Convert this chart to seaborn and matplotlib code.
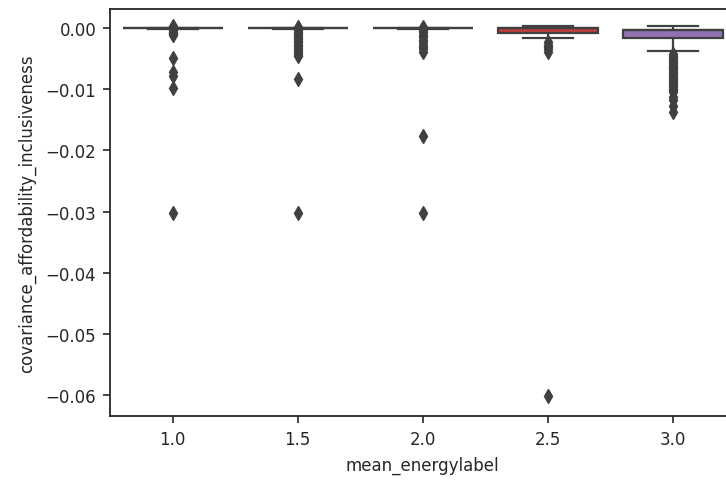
import matplotlib
matplotlib.use('Agg')
import matplotlib.pyplot as plt
import numpy as np
import pandas as pd
import seaborn as sns

# categories on the x axis
energy_labels = ['1.0', '1.5', '2.0', '2.5', '3.0']

# box body per group: whisker-high, Q3, median, Q1, whisker-low
core_vals = {
    '1.0': [0.00002, 0.00002, 0.0, -0.00003, -0.0001],
    '1.5': [0.00002, 0.00002, 0.0, -0.00003, -0.0001],
    '2.0': [0.00002, 0.00002, 0.0, -0.00003, -0.0001],
    '2.5': [0.0003, 0.0, 0.0, -0.0009, -0.0017],
    '3.0': [0.0003, -0.0003, -0.0003, -0.0017, -0.0037],
}
core_counts = [1, 40, 40, 40, 1]

# outliers
outliers = {
    '1.0': [0.0003, -0.0002, -0.0004, -0.0006, -0.0008, -0.001, -0.0012,
            -0.0049, -0.0072, -0.0078, -0.0098, -0.0302],
    '1.5': [0.0002, -0.0003, -0.0006, -0.0009, -0.0012, -0.0015, -0.0018,
            -0.0021, -0.0024, -0.0027, -0.003, -0.0033, -0.0036, -0.0039,
            -0.0042, -0.0045, -0.0083, -0.0302],
    '2.0': [0.0001, -0.0003, -0.0007, -0.0011, -0.0015, -0.0019, -0.0023,
            -0.0027, -0.0031, -0.0035, -0.0039, -0.0176, -0.0302],
    '2.5': [-0.0023, -0.0027, -0.0031, -0.0035, -0.0039, -0.0601],
    '3.0': [-0.0042, -0.0045, -0.0048, -0.0051, -0.0054, -0.0057, -0.006,
            -0.0063, -0.0066, -0.0069, -0.0072, -0.0075, -0.0078, -0.0081,
            -0.0084, -0.0087, -0.009, -0.0093, -0.0096, -0.0099, -0.0102,
            -0.0105, -0.0112, -0.0118, -0.0128, -0.0138],
}

rows = []
for lab in energy_labels:
    vals = list(np.repeat(core_vals[lab], core_counts)) + outliers[lab]
    for v in vals:
        rows.append((lab, v))
df = pd.DataFrame(rows, columns=['mean_energylabel', 'covariance_affordability_inclusiveness'])

plt.rcParams['font.family'] = ['DejaVu Sans']
plt.rcParams['font.size'] = 12

fig = plt.figure(figsize=(7.26, 4.81), dpi=100)
ax = fig.add_axes([110.2 / 726, 1 - 417 / 481, (735 - 110.2) / 726, (417 - 9.7) / 481])

sns.boxplot(data=df, x='mean_energylabel', y='covariance_affordability_inclusiveness',
            hue='mean_energylabel', palette='tab10', legend=False, saturation=0.75,
            linecolor='0.25', linewidth=1.6, fliersize=7, width=0.8,
            flierprops={'marker': 'd', 'markerfacecolor': '0.25', 'markeredgecolor': '0.25'},
            ax=ax)

ax.set_ylim(-0.0634, 0.00315)
ax.set_yticks([0.0, -0.01, -0.02, -0.03, -0.04, -0.05, -0.06])
ax.set_yticklabels(['0.00', '\u22120.01', '\u22120.02', '\u22120.03', '\u22120.04', '\u22120.05', '\u22120.06'])
for s in ax.spines.values():
    s.set_linewidth(1.3)
    s.set_color('0.15')
ax.tick_params(length=5, width=1.2, pad=5, labelsize=12, colors='0.15')
ax.set_xlabel('mean_energylabel', fontsize=12, color='0.15', labelpad=6)
ax.set_ylabel('covariance_affordability_inclusiveness', fontsize=12, color='0.15', labelpad=7)

fig.savefig('out.png', dpi=100)
